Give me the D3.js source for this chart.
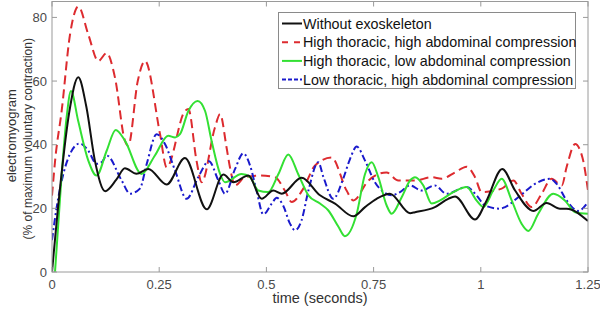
<!DOCTYPE html>
<html>
<head>
<meta charset="utf-8">
<script src="https://cdn.jsdelivr.net/npm/d3@7"></script>
<style>
  body { margin: 0; background: #fff; }
  svg { font-family: "Liberation Sans", Arial, sans-serif; }
</style>
</head>
<body>
<div class="chart-box"></div>
<script>
/* Data: time (s) and EMG (% MVC) */
const seriesNames = [
  "Without exoskeleton",
  "High thoracic, high abdominal compression",
  "High thoracic, low abdominal compression",
  "Low thoracic, high abdominal compression"
];

const blackT = [0, 0.02, 0.04, 0.0613, 0.08, 0.1, 0.124, 0.15, 0.17, 0.197, 0.2246, 0.2674, 0.31, 0.361, 0.3996, 0.4229, 0.458, 0.489, 0.516, 0.536, 0.582, 0.625, 0.66, 0.7027, 0.73, 0.757, 0.788, 0.835, 0.8466, 0.893, 0.924, 0.94, 0.9865, 1.0137, 1.05, 1.08, 1.1225, 1.1535, 1.1847, 1.2, 1.25];
const blackV = [0, 28, 50, 61.2, 52, 35, 25.4, 29, 32.6, 30.9, 32.4, 27.5, 35.8, 19.7, 30.6, 28.2, 30.3, 23.0, 25.6, 24.6, 29.6, 24.1, 21.5, 17.5, 20.4, 23.0, 24.6, 18.5, 18.8, 20.4, 23.0, 23.7, 16.5, 22.5, 32.4, 25.6, 19.2, 21.7, 19.9, 19.9, 16.0];

const redT = [0, 0.008, 0.0225, 0.042, 0.0614, 0.0847, 0.108, 0.1275, 0.147, 0.17, 0.178, 0.2, 0.2169, 0.252, 0.2674, 0.31, 0.318, 0.337, 0.349, 0.38, 0.392, 0.407, 0.415, 0.427, 0.45, 0.485, 0.52, 0.543, 0.559, 0.586, 0.613, 0.652, 0.687, 0.7027, 0.738, 0.78, 0.8076, 0.8466, 0.8855, 0.9088, 0.94, 0.967, 0.9865, 1.002, 1.0487, 1.076, 1.095, 1.1187, 1.142, 1.165, 1.189, 1.2, 1.22, 1.237, 1.25];
const redV = [24, 36, 50.6, 74.6, 83.4, 74.6, 66.3, 68.8, 61, 41.3, 39.7, 60, 66.3, 43.3, 32.9, 50.6, 51.2, 35, 28.2, 45.4, 49.6, 39.2, 32.9, 27.2, 29.8, 30.3, 29.8, 25.6, 22, 26.2, 33.4, 36, 25.6, 22.5, 28.75, 31.3, 28.75, 28.75, 29.8, 29.3, 31.3, 33.1, 29.8, 25.1, 26.2, 28.75, 24.6, 20.4, 24.6, 29.3, 27.2, 32.9, 40.2, 36, 25.6];

const greenT = [0.007, 0.0226, 0.034, 0.0443, 0.061, 0.0847, 0.104, 0.1275, 0.1486, 0.17, 0.209, 0.24, 0.271, 0.287, 0.2985, 0.318, 0.3397, 0.357, 0.372, 0.392, 0.4035, 0.442, 0.462, 0.481, 0.504, 0.528, 0.551, 0.574, 0.598, 0.625, 0.644, 0.668, 0.683, 0.7106, 0.73, 0.7456, 0.761, 0.7805, 0.792, 0.8155, 0.835, 0.8466, 0.866, 0.8855, 0.905, 0.936, 0.967, 0.99, 1.006, 1.029, 1.0487, 1.072, 1.095, 1.111, 1.134, 1.169, 1.196, 1.22, 1.25];
const greenV = [0, 30.8, 48.5, 56.9, 47.5, 35, 30.3, 38.1, 44.6, 41.3, 30.8, 36.6, 42.8, 42.3, 43.3, 50.6, 53.75, 50.6, 41.3, 30.8, 28.2, 30.8, 29.8, 25.6, 25.1, 30.8, 36.9, 30.8, 24.1, 21.5, 19.4, 14.2, 11.25, 18.3, 30.8, 34.5, 29.8, 20.9, 18.3, 23.5, 28.75, 29.8, 27.2, 21.5, 22.5, 25.1, 26.7, 22.5, 20.4, 25.6, 29.3, 22.5, 15.2, 12.9, 18.3, 24.6, 22.5, 18.8, 18.3];

const blueT = [0, 0.011, 0.0264, 0.042, 0.065, 0.0847, 0.104, 0.116, 0.1275, 0.1625, 0.182, 0.205, 0.221, 0.244, 0.2635, 0.287, 0.314, 0.341, 0.366, 0.388, 0.4035, 0.427, 0.446, 0.462, 0.477, 0.4928, 0.5124, 0.524, 0.539, 0.555, 0.5667, 0.582, 0.598, 0.621, 0.633, 0.656, 0.679, 0.695, 0.7106, 0.73, 0.753, 0.769, 0.792, 0.8116, 0.835, 0.862, 0.893, 0.92, 0.967, 0.99, 1.0098, 1.045, 1.0565, 1.0875, 1.1265, 1.1614, 1.177, 1.2, 1.227, 1.25];
const blueV = [10, 20.4, 30.8, 37.1, 40.4, 38.1, 34, 34.5, 36.6, 28.75, 24.6, 26.2, 34, 43.3, 40.2, 31.9, 23, 29.8, 34.8, 28.75, 24.6, 32.4, 37.3, 33.4, 25.6, 18.1, 21.5, 23.3, 20.9, 15.2, 13.1, 16.25, 25.6, 34.5, 29.8, 23, 29.3, 35.5, 39.4, 35, 28.2, 25.6, 24.1, 25.1, 27.2, 25.6, 27.2, 24.6, 26.7, 24.1, 20.9, 19.9, 20.4, 23.5, 27.7, 29.3, 27.7, 22.5, 19.2, 22];

const xTicks = [0, 0.25, 0.5, 0.75, 1, 1.25];
const xTickLabels = ["0", "0.25", "0.5", "0.75", "1", "1.25"];
const yTicks = [0, 20, 40, 60, 80];

/* Setup */
const width = 600, height = 311;
const margin = {left: 52, right: 12, top: 1.5, bottom: 39};

const svg = d3.select(".chart-box")
  .append("svg")
  .attr("width", width)
  .attr("height", height);

const x = d3.scaleLinear().domain([0, 1.25]).range([margin.left, width - margin.right]);
const y = d3.scaleLinear().domain([0, 85]).range([height - margin.bottom, margin.top]);

svg.append("clipPath").attr("id", "plot-clip")
  .append("rect")
  .attr("x", x(0)).attr("y", y(85))
  .attr("width", x(1.25) - x(0)).attr("height", y(0) - y(85));

/* series styles */
const styles = [
  {t: blackT, v: blackV, color: "#111111", dash: null},
  {t: redT, v: redV, color: "#dd2b2f", dash: "9,5"},
  {t: greenT, v: greenV, color: "#33e033", dash: null},
  {t: blueT, v: blueV, color: "#1a1acc", dash: "7,3,2,3"}
];

const line = d3.line()
  .x(d => x(d[0]))
  .y(d => y(d[1]))
  .curve(d3.curveMonotoneX);

// draw in reverse so black sits on top like the original
const lines = svg.append("g").attr("clip-path", "url(#plot-clip)");
[1, 3, 2, 0].forEach(i => {
  const s = styles[i];
  lines.append("path")
    .datum(d3.zip(s.t, s.v))
    .attr("d", line)
    .attr("fill", "none")
    .attr("stroke", s.color)
    .attr("stroke-width", 2)
    .attr("stroke-dasharray", s.dash);
});

/* Axes - matlab style box with inward ticks */
const axisColor = "#9a9a9a";
const tickLen = 5;
const box = svg.append("g");
box.append("rect")
  .attr("x", x(0)).attr("y", y(85))
  .attr("width", x(1.25) - x(0)).attr("height", y(0) - y(85))
  .attr("fill", "none").attr("stroke", axisColor).attr("stroke-width", 1);

xTicks.forEach((t, i) => {
  box.append("line").attr("x1", x(t)).attr("x2", x(t))
    .attr("y1", y(0)).attr("y2", y(0) - tickLen).attr("stroke", axisColor);
  box.append("line").attr("x1", x(t)).attr("x2", x(t))
    .attr("y1", y(85)).attr("y2", y(85) + tickLen).attr("stroke", axisColor);
  box.append("text")
    .attr("x", x(t)).attr("y", y(0) + 17)
    .attr("text-anchor", "middle")
    .attr("font-size", 13)
    .attr("fill", "#4a4a4a")
    .text(xTickLabels[i]);
});

yTicks.forEach(v => {
  box.append("line").attr("x1", x(0)).attr("x2", x(0) + tickLen)
    .attr("y1", y(v)).attr("y2", y(v)).attr("stroke", axisColor);
  box.append("line").attr("x1", x(1.25)).attr("x2", x(1.25) - tickLen)
    .attr("y1", y(v)).attr("y2", y(v)).attr("stroke", axisColor);
  box.append("text")
    .attr("x", x(0) - 5).attr("y", y(v) + 4.5)
    .attr("text-anchor", "end")
    .attr("font-size", 13)
    .attr("fill", "#4a4a4a")
    .text(v);
});

/* axis labels */
svg.append("text")
  .attr("x", (x(0) + x(1.25)) / 2).attr("y", 302.5)
  .attr("text-anchor", "middle")
  .attr("font-size", 14.5)
  .attr("fill", "#333")
  .text("time (seconds)");

const yMid = (y(0) + y(85)) / 2;
svg.append("text")
  .attr("transform", `translate(16,${yMid - 1}) rotate(-90)`)
  .attr("text-anchor", "middle")
  .attr("font-size", 13)
  .attr("fill", "#333")
  .text("electromyogram");
svg.append("text")
  .attr("transform", `translate(32,${yMid + 2}) rotate(-90)`)
  .attr("text-anchor", "middle")
  .attr("font-size", 12)
  .attr("fill", "#333")
  .text("(% of maximum voluntary contraction)");

/* legend */
const legend = svg.append("g");
legend.append("rect")
  .attr("x", 278.5).attr("y", 12.5)
  .attr("width", 297).attr("height", 76)
  .attr("fill", "#fff").attr("stroke", "#8a8a8a");

styles.forEach((s, i) => {
  const ly = 23.5 + i * 18.7;
  legend.append("line")
    .attr("x1", 282).attr("x2", 302)
    .attr("y1", ly).attr("y2", ly)
    .attr("stroke", s.color).attr("stroke-width", 2)
    .attr("stroke-dasharray", i === 1 ? "6,6" : (i === 3 ? "4,2,4,2" : null));
  legend.append("text")
    .attr("x", 303).attr("y", ly + 5)
    .attr("font-size", 14.3)
    .attr("fill", "#111")
    .text(seriesNames[i]);
});
</script>
</body>
</html>
